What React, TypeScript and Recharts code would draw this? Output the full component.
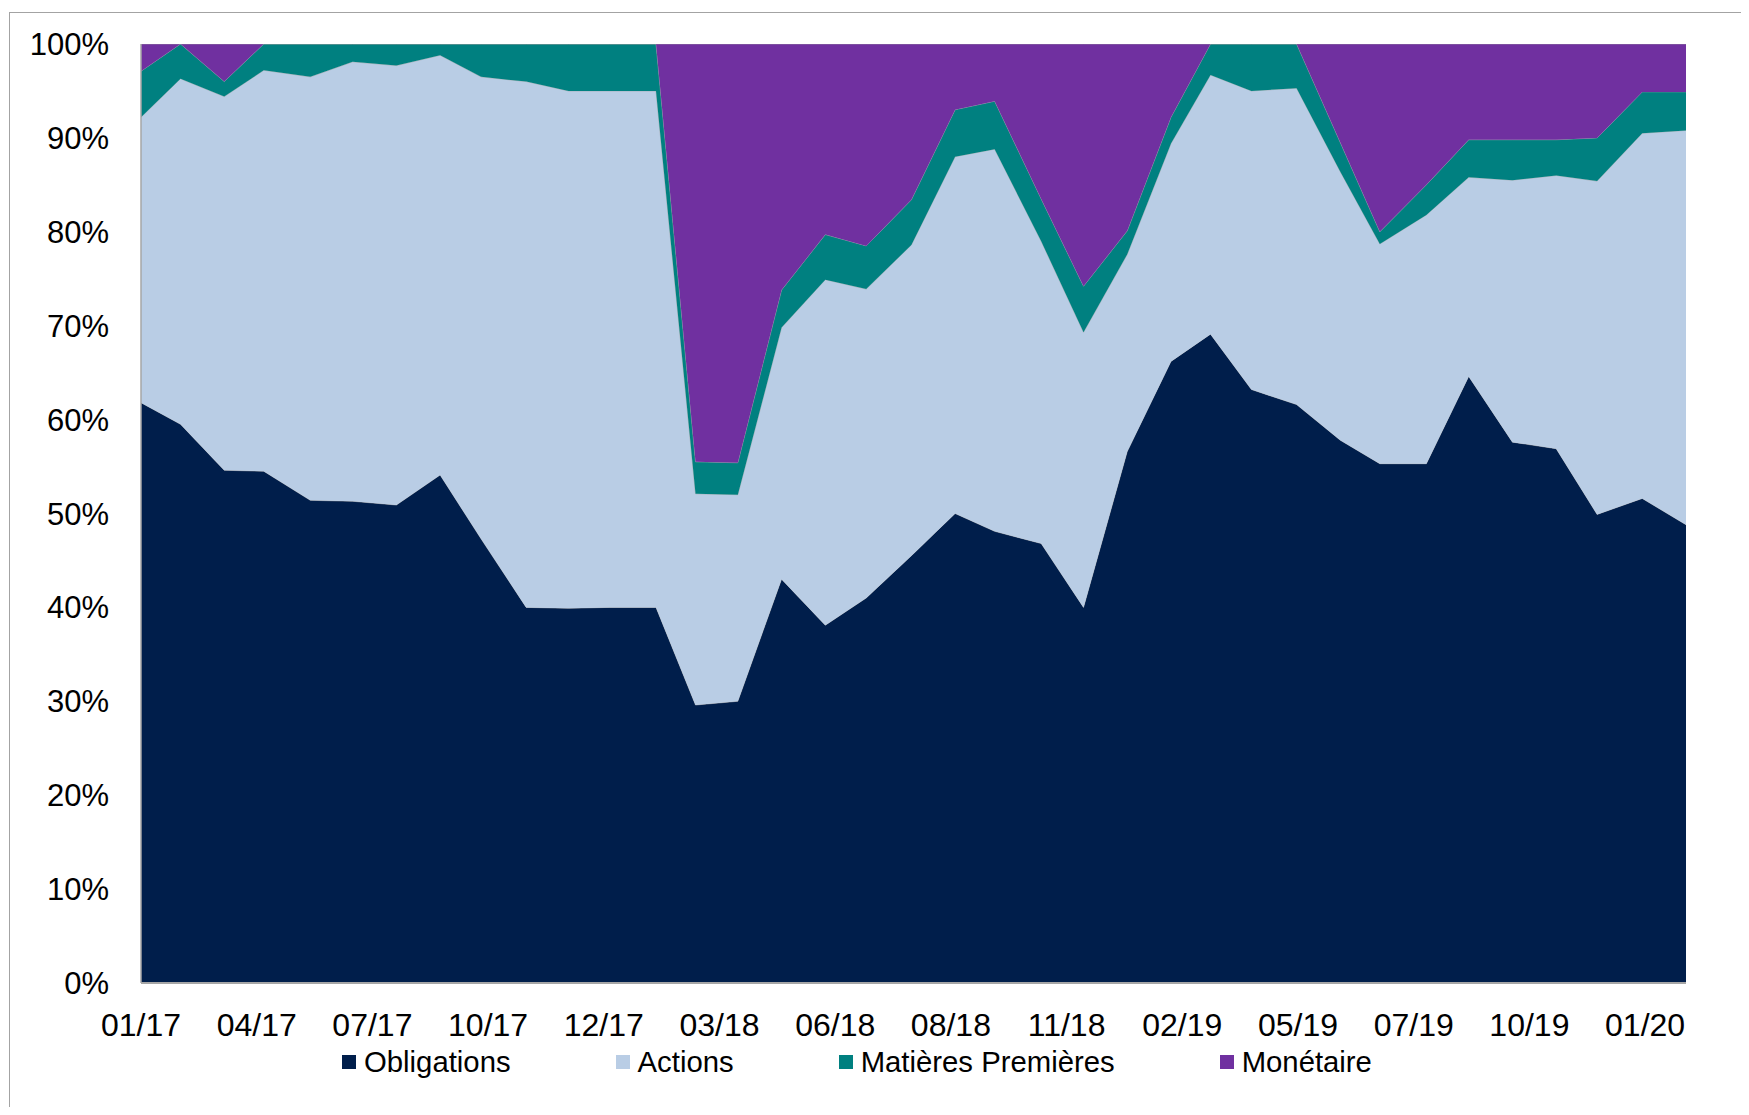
import React from "react";
import { AreaChart, Area, XAxis, YAxis } from "recharts";

// Month-end (last business day) observation dates
const dates = [
  "2017-01-31", "2017-02-28", "2017-03-31", "2017-04-28", "2017-05-31", "2017-06-30",
  "2017-07-31", "2017-08-31", "2017-09-29", "2017-10-31", "2017-11-30", "2017-12-29",
  "2018-01-31", "2018-02-28", "2018-03-30", "2018-04-30", "2018-05-31", "2018-06-29",
  "2018-07-31", "2018-08-31", "2018-09-28", "2018-10-31", "2018-11-30", "2018-12-31",
  "2019-01-31", "2019-02-28", "2019-03-29", "2019-04-30", "2019-05-31", "2019-06-28",
  "2019-07-31", "2019-08-30", "2019-09-30", "2019-10-31", "2019-11-29", "2019-12-31",
  "2020-01-31",
];

const obligations = [
  61.8, 59.5, 54.6, 54.5, 51.4, 51.3, 50.9, 54.1, 47.3, 40.0, 39.9, 40.0,
  40.0, 29.6, 30.0, 43.0, 38.1, 41.0, 45.5, 50.0, 48.1, 46.8, 40.0, 56.6,
  66.2, 69.1, 63.2, 61.6, 57.8, 55.3, 55.3, 64.6, 57.6, 56.9, 49.9, 51.6,
  48.8,
];

const actions = [
  30.4, 36.8, 39.8, 42.7, 45.1, 46.8, 46.8, 44.7, 49.2, 56.0, 55.1, 55.0,
  55.0, 22.5, 22.0, 26.8, 36.8, 32.9, 33.1, 38.0, 40.7, 32.2, 29.3, 21.0,
  23.2, 27.6, 31.8, 33.7, 28.6, 23.4, 26.5, 21.2, 27.9, 29.1, 35.5, 38.9,
  42.0,
];

const matieres = [
  4.9, 3.7, 1.6, 2.8, 3.5, 1.9, 2.3, 1.2, 3.5, 4.0, 5.0, 5.0,
  5.0, 3.4, 3.4, 4.0, 4.8, 4.6, 4.8, 5.0, 5.1, 4.5, 4.9, 2.5,
  2.8, 3.3, 5.0, 4.7, 3.1, 1.3, 3.2, 4.0, 4.3, 3.8, 4.6, 4.4,
  4.1,
];

const monetaire = [
  2.9, 0.0, 4.0, 0.0, 0.0, 0.0, 0.0, 0.0, 0.0, 0.0, 0.0, 0.0,
  0.0, 44.5, 44.6, 26.2, 20.3, 21.5, 16.6, 7.0, 6.1, 16.5, 25.8, 19.9,
  7.8, 0.0, 0.0, 0.0, 10.5, 20.0, 15.0, 10.2, 10.2, 10.2, 10.0, 5.1,
  5.1,
];

const tickDates = [
  "2017-01-31", "2017-04-23", "2017-07-14", "2017-10-04", "2017-12-25",
  "2018-03-17", "2018-06-07", "2018-08-28", "2018-11-18", "2019-02-08",
  "2019-05-01", "2019-07-22", "2019-10-12", "2020-01-02",
];
const tickLabels = [
  "01/17", "04/17", "07/17", "10/17", "12/17", "03/18", "06/18",
  "08/18", "11/18", "02/19", "05/19", "07/19", "10/19", "01/20",
];

const yTicks = [0, 10, 20, 30, 40, 50, 60, 70, 80, 90, 100];

const seriesKeys = ["obligations", "actions", "matieres", "monetaire"];
const seriesNames = ["Obligations", "Actions", "Matières Premières", "Monétaire"];
const seriesColors = ["#001E4B", "#B9CDE5", "#008080", "#7030A0"];

const dayNum = (s: string) => {
  const [y, m, d] = s.split("-").map(Number);
  return Date.UTC(y, m - 1, d) / 86400000;
};
const start = dayNum(dates[0]);
const end = dayNum(dates[dates.length - 1]);

const data = dates.map((d, i) => ({
  t: dayNum(d) - start,
  obligations: obligations[i],
  actions: actions[i],
  matieres: matieres[i],
  monetaire: monetaire[i],
}));

const xTicks = tickDates.map((d) => dayNum(d) - start);
const labelFor = (v: number) => {
  const idx = xTicks.indexOf(v);
  return idx >= 0 ? tickLabels[idx] : "";
};

const FONT = '"Liberation Sans", Arial, Helvetica, sans-serif';

export default function App() {
  return (
    <div
      style={{
        position: "relative",
        width: 1749,
        height: 1115,
        margin: -8,
        overflow: "hidden",
        background: "#ffffff",
        fontFamily: FONT,
      }}
    >
      <div
        style={{
          position: "absolute",
          left: 9,
          top: 12,
          width: 2000,
          height: 2000,
          borderLeft: "1.5px solid #a3a3a3",
          borderTop: "1.5px solid #a3a3a3",
        }}
      />
      <div style={{ position: "absolute", left: 0, top: 0 }}>
        <AreaChart
          width={1749}
          height={1115}
          data={data}
          margin={{ top: 44, right: 63, bottom: 0, left: 0 }}
        >
          <XAxis
            dataKey="t"
            type="number"
            domain={[0, end - start]}
            ticks={xTicks}
            interval={0}
            tickFormatter={labelFor}
            tickLine={false}
            tickSize={0}
            tickMargin={30}
            height={132}
            axisLine={{ stroke: "#a6a6a6", strokeWidth: 2 }}
            tick={{ fontSize: 32, fill: "#000000", fontFamily: FONT }}
            allowDataOverflow
          />
          <YAxis
            type="number"
            domain={[0, 100]}
            ticks={yTicks}
            interval={0}
            width={141}
            tickFormatter={(v: number) => `${v}%`}
            tickLine={false}
            tickSize={0}
            tickMargin={32}
            axisLine={{ stroke: "#a6a6a6", strokeWidth: 1.5 }}
            tick={{ fontSize: 31, fill: "#000000", fontFamily: FONT }}
            allowDataOverflow
          />
          {seriesKeys.map((k, i) => (
            <Area
              key={k}
              type="linear"
              dataKey={k}
              name={seriesNames[i]}
              stackId="1"
              fill={seriesColors[i]}
              fillOpacity={1}
              stroke="#a0a0a0"
              strokeWidth={0.6}
              dot={false}
              activeDot={false}
              isAnimationActive={false}
            />
          ))}
        </AreaChart>
      </div>
      <div
        style={{
          position: "absolute",
          left: 342,
          top: 1045,
          display: "flex",
          alignItems: "center",
          height: 34,
          fontSize: 29.3,
          color: "#000000",
          whiteSpace: "nowrap",
        }}
      >
        {seriesNames.map((n, i) => (
          <div
            key={n}
            style={{
              display: "flex",
              alignItems: "center",
              marginRight: i < seriesNames.length - 1 ? 105 : 0,
            }}
          >
            <span
              style={{
                display: "inline-block",
                width: 14,
                height: 14,
                background: seriesColors[i],
                marginRight: 8,
              }}
            />
            <span>{n}</span>
          </div>
        ))}
      </div>
    </div>
  );
}
